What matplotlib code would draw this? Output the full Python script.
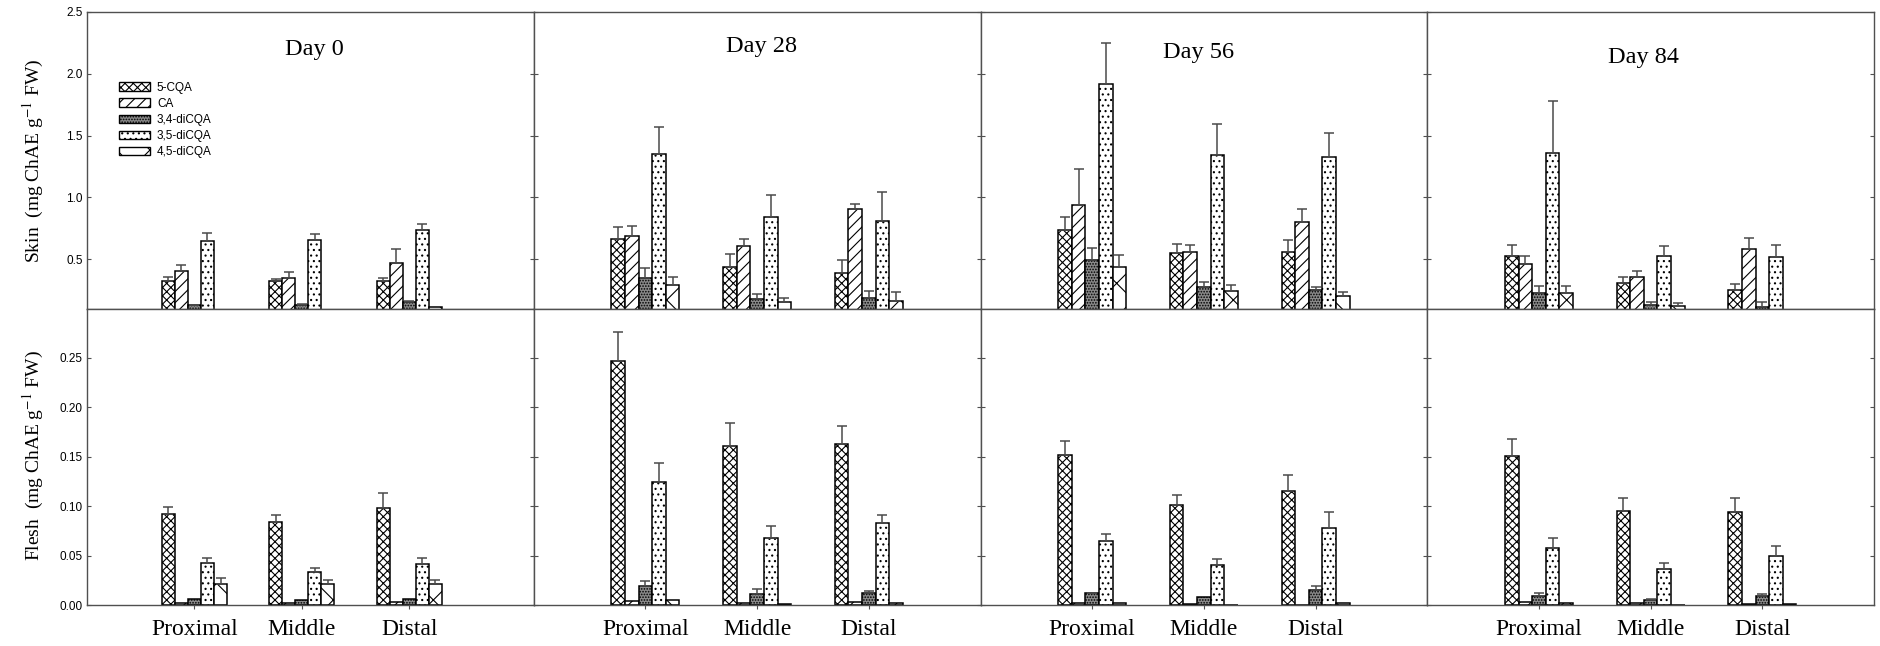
import matplotlib
matplotlib.use("Agg")
import matplotlib.pyplot as plt
from matplotlib.patches import Patch
import numpy as np

plt.rcParams['mathtext.fontset'] = 'stix'
plt.rcParams['hatch.linewidth'] = 0.8

days = ["Day 0", "Day 28", "Day 56", "Day 84"]
positions = ["Proximal", "Middle", "Distal"]
compounds = ["5-CQA", "CA", "3,4-diCQA", "3,5-diCQA", "4,5-diCQA"]

# Skin means / upper errors: rows = compounds, columns = Proximal, Middle, Distal
skin_d0 = [[0.324, 0.322, 0.324], [0.405, 0.349, 0.468], [0.125, 0.130, 0.154], [0.643, 0.654, 0.738], [0.0, 0.0, 0.112]]
skin_d0_err = [[0.035, 0.018, 0.025], [0.044, 0.043, 0.110], [0.005, 0.006, 0.006], [0.065, 0.049, 0.046], [0, 0, 0]]
skin_d28 = [[0.659, 0.438, 0.384], [0.684, 0.605, 0.903], [0.343, 0.173, 0.181], [1.349, 0.841, 0.811], [0.292, 0.149, 0.157]]
skin_d28_err = [[0.100, 0.100, 0.111], [0.086, 0.060, 0.046], [0.084, 0.046, 0.057], [0.221, 0.175, 0.232], [0.067, 0.037, 0.073]]
skin_d56 = [[0.732, 0.549, 0.554], [0.938, 0.559, 0.803], [0.489, 0.270, 0.246], [1.914, 1.343, 1.327], [0.432, 0.241, 0.203]]
skin_d56_err = [[0.106, 0.070, 0.100], [0.294, 0.052, 0.100], [0.097, 0.041, 0.030], [0.335, 0.249, 0.192], [0.098, 0.048, 0.029]]
skin_d84 = [[0.522, 0.303, 0.251], [0.457, 0.359, 0.578], [0.222, 0.130, 0.116], [1.362, 0.524, 0.516], [0.227, 0.119, 0.0]]
skin_d84_err = [[0.089, 0.048, 0.049], [0.067, 0.041, 0.092], [0.064, 0.024, 0.033], [0.416, 0.084, 0.098], [0.059, 0.022, 0]]

flesh_d0 = [[0.0919, 0.0841, 0.0986], [0.0024, 0.0024, 0.003], [0.006, 0.005, 0.0064], [0.0427, 0.0336, 0.041], [0.0212, 0.0209, 0.0209]]
flesh_d0_err = [[0.0077, 0.0074, 0.0144], [0, 0, 0], [0, 0, 0], [0.0051, 0.0034, 0.0068], [0.0057, 0.004, 0.0047]]
flesh_d28 = [[0.2473, 0.1612, 0.1632], [0.004, 0.0024, 0.003], [0.0195, 0.0111, 0.0121], [0.1245, 0.0673, 0.0831], [0.0047, 0.0007, 0.002]]
flesh_d28_err = [[0.0293, 0.0232, 0.0182], [0, 0, 0], [0.0051, 0.0047, 0.0017], [0.0195, 0.0124, 0.0081], [0, 0, 0]]
flesh_d56 = [[0.1517, 0.101, 0.1154], [0.0024, 0.001, 0.0005], [0.0118, 0.0077, 0.0151], [0.0649, 0.0407, 0.0784], [0.0017, 0.0, 0.0017]]
flesh_d56_err = [[0.0145, 0.0104, 0.0162], [0, 0, 0], [0.0004, 0, 0.0037], [0.0071, 0.0054, 0.0155], [0, 0, 0]]
flesh_d84 = [[0.1507, 0.0952, 0.0942], [0.0034, 0.002, 0.001], [0.0091, 0.0047, 0.0091], [0.0572, 0.0363, 0.0495], [0.0024, 0.0, 0.0007]]
flesh_d84_err = [[0.0175, 0.0135, 0.0145], [0, 0, 0], [0.0027, 0.0013, 0.0017], [0.0101, 0.0057, 0.0107], [0, 0, 0]]

skin = [skin_d0, skin_d28, skin_d56, skin_d84]
skin_err = [skin_d0_err, skin_d28_err, skin_d56_err, skin_d84_err]
flesh = [flesh_d0, flesh_d28, flesh_d56, flesh_d84]
flesh_err = [flesh_d0_err, flesh_d28_err, flesh_d56_err, flesh_d84_err]

hatches = ['xxxx', '///', '......', '...', 'x']
faces = ['white', 'white', '#8a8a8a', 'white', 'white']

W, H = 1881, 646
fig = plt.figure(figsize=(W / 100, H / 100), dpi=100)
left, right = 87 / W, 1874 / W
top, mid, bot = 1 - 12 / H, 1 - 308.5 / H, 1 - 605 / H
pw = (right - left) / 4

serif = 'Liberation Serif'
sans = 'Liberation Sans'
spine_col = '#505050'
bw = 0.1217
title_y = [0.872, 0.882, 0.865, 0.845]
title_x = [0.508, 0.509, 0.489, 0.484]
xmax = [4.16, 4.0, 4.0, 4.0]

x = np.arange(1, 4)

def draw(ax, means, errs, ylim):
    for i in range(5):
        m = np.array(means[i], dtype=float)
        e = np.array(errs[i], dtype=float)
        xs = x + (i - 2) * bw
        ax.bar(xs, m, width=bw, facecolor=faces[i], edgecolor='black',
               hatch=hatches[i], linewidth=1.1, zorder=2)
        mask = e > 0
        if mask.any():
            ax.errorbar(xs[mask], m[mask], yerr=[np.zeros(mask.sum()), e[mask]],
                        fmt='none', ecolor='#4a4a4a', elinewidth=1.1, capsize=3.5,
                        capthick=1.1, zorder=3)
    ax.set_ylim(*ylim)
    for s in ax.spines.values():
        s.set_color(spine_col)
        s.set_linewidth(1.0)
    ax.tick_params(axis='y', direction='in', left=True, right=True, length=3,
                   width=0.8, color=spine_col, labelsize=8.5, pad=3)

for d in range(4):
    ax_t = fig.add_axes([left + d * pw, mid, pw, top - mid])
    ax_b = fig.add_axes([left + d * pw, bot, pw, mid - bot])
    draw(ax_t, skin[d], skin_err[d], (0.1, 2.5))
    draw(ax_b, flesh[d], flesh_err[d], (0.0, 0.3))
    for ax in (ax_t, ax_b):
        ax.set_xlim(0, xmax[d])
    ax_t.set_yticks([0.5, 1.0, 1.5, 2.0, 2.5])
    ax_b.set_yticks([0.0, 0.05, 0.10, 0.15, 0.20, 0.25])
    ax_t.set_xticks([])
    ax_b.set_xticks(x)
    ax_b.set_xticklabels(positions, fontfamily=serif, fontsize=17)
    ax_b.tick_params(axis='x', direction='out', length=3, width=0.8,
                     color=spine_col, pad=7)
    if d == 0:
        ax_t.set_yticklabels(['0.5', '1.0', '1.5', '2.0', '2.5'], fontfamily=sans, fontsize=8.5)
        ax_b.set_yticklabels(['0.00', '0.05', '0.10', '0.15', '0.20', '0.25'], fontfamily=sans, fontsize=8.5)
    else:
        ax_t.set_yticklabels([])
        ax_b.set_yticklabels([])
    ax_t.text(title_x[d], title_y[d], days[d], transform=ax_t.transAxes,
              ha='center', va='center', fontfamily=serif, fontsize=17.5)
    if d == 0:
        handles = [Patch(facecolor=faces[i], edgecolor='black', hatch=hatches[i],
                         linewidth=1.0, label=compounds[i]) for i in range(5)]
        ax_t.legend(handles=handles, loc='upper left', bbox_to_anchor=(0.072, 0.765),
                    frameon=False, prop={'family': sans, 'size': 8.5},
                    handlelength=2.6, handleheight=0.75, labelspacing=0.35,
                    handletextpad=0.6, borderaxespad=0, borderpad=0)

fig.text(33 / W, 1 - 161 / H, 'Skin  (mg ChAE g$^{-1}$ FW)', rotation=90,
         ha='center', va='center', fontfamily=serif, fontsize=14)
fig.text(33 / W, 1 - 456 / H, 'Flesh  (mg ChAE g$^{-1}$ FW)', rotation=90,
         ha='center', va='center', fontfamily=serif, fontsize=14)

fig.savefig('out.png', dpi=100)
